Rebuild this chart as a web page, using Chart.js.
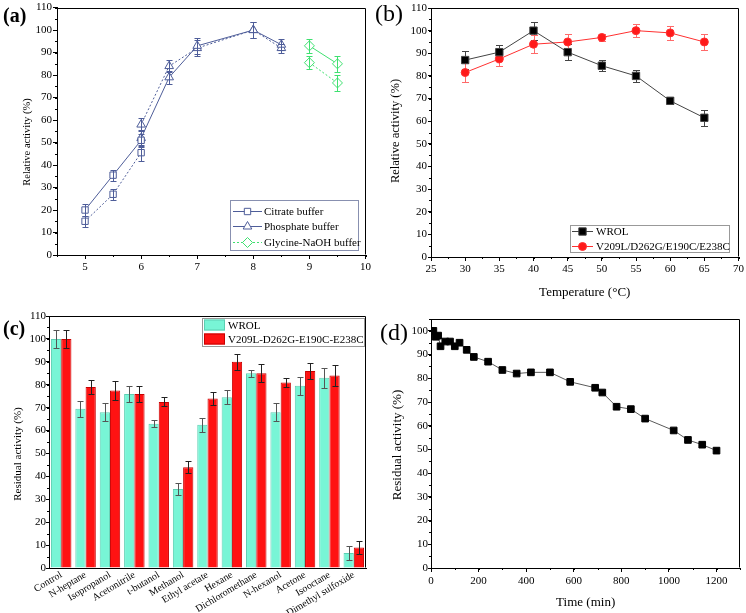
<!DOCTYPE html>
<html><head><meta charset="utf-8">
<script src="https://cdn.jsdelivr.net/npm/chart.js@4/dist/chart.umd.min.js"></script>
<style>
html,body{margin:0;padding:0;background:#fff;}
body{width:746px;height:613px;position:relative;overflow:hidden;}
canvas{position:absolute;}
.lbl{position:absolute;font-family:"Liberation Serif","Times New Roman",serif;color:#000;line-height:1;white-space:nowrap;}
</style></head><body>
<canvas id="ca" width="373" height="300" style="left:0;top:0"></canvas>
<canvas id="cb" width="373" height="300" style="left:373px;top:0"></canvas>
<canvas id="cc" width="373" height="313" style="left:0;top:300px"></canvas>
<canvas id="cd" width="373" height="313" style="left:373px;top:300px"></canvas>
<div class="lbl" style="left:3px;top:5px;font-size:20px;font-weight:bold">(a)</div>
<div class="lbl" style="left:375px;top:1px;font-size:24px">(b)</div>
<div class="lbl" style="left:3px;top:318px;font-size:20px;font-weight:bold">(c)</div>
<div class="lbl" style="left:380px;top:320px;font-size:24px">(d)</div>
<script>
// ---------- Panel (a): pH ----------
const phCitrate = [5, 5.5, 6];
const citrateSolid = [20, 35.5, 51];
const citrateSolidErr = [2.5, 2.5, 3];
const citrateDotted = [15, 27, 45.5];
const citrateDottedErr = [2.5, 2.5, 3.5];
const phPhosphate = [6, 6.5, 7, 8, 8.5];
const phosphateSolid = [52, 79, 93, 100, 93.5];
const phosphateSolidErr = [3.5, 3, 3.5, 3.5, 2.5];
const phosphateDotted = [58, 84, 92, 100, 92];
const phosphateDottedErr = [3, 2.5, 3.5, 3.5, 2];
const phGlycine = [9, 9.5];
const glycineSolid = [93, 85];
const glycineSolidErr = [3, 3.5];
const glycineDotted = [85.5, 76.5];
const glycineDottedErr = [3, 3.5];
const aXTicks = [5, 6, 7, 8, 9, 10];
const aYTicks = [0, 10, 20, 30, 40, 50, 60, 70, 80, 90, 100, 110];

// ---------- Panel (b): temperature ----------
const tempC = [30, 35, 40, 45, 50, 55, 60, 65];
const wrolTemp = [87, 90.5, 100, 90.5, 84.5, 80, 69, 61.5];
const wrolTempErr = [4, 3, 4, 3.5, 2.5, 2.5, 1.5, 3.5];
const mutTemp = [81.5, 87.5, 94, 95, 97, 100, 99, 95];
const mutTempErr = [4, 3, 4, 3.5, 1.5, 3, 3, 3.5];
const bXTicks = [25, 30, 35, 40, 45, 50, 55, 60, 65, 70];
const bYTicks = [0, 10, 20, 30, 40, 50, 60, 70, 80, 90, 100, 110];

// ---------- Panel (c): solvents ----------
const solvents = ['Control', 'N-heptane', 'Isopropanol', 'Acetonitrile', 't-butanol', 'Methanol',
  'Ethyl acetate', 'Hexane', 'Dichloromethane', 'N-hexanol', 'Acetone', 'Isooctane', 'Dimethyl sulfoxide'];
const wrolSolv = [100, 69.5, 68, 76, 63, 34.5, 62.5, 74.5, 85, 68, 79.5, 83, 6.5];
const wrolSolvErr = [4, 3.5, 4, 3.5, 1.5, 2.5, 3, 3, 1.5, 4, 4, 4.5, 3];
const mutSolv = [100, 79, 77.5, 76, 72.5, 44, 74, 90, 85, 81, 86, 84, 9];
const mutSolvErr = [4, 3, 4, 3.5, 2, 2.5, 3, 3.5, 4, 2, 3.5, 4.5, 3];
const cYTicks = [0, 10, 20, 30, 40, 50, 60, 70, 80, 90, 100, 110];

// ---------- Panel (d): time course ----------
const timeMin = [10, 20, 30, 40, 60, 80, 100, 120, 150, 180, 240, 300, 360, 420, 500, 585, 690, 720, 780, 840, 900, 1020, 1080, 1140, 1200];
const residual = [100, 97.5, 98, 93.5, 95.5, 95.5, 93.5, 95, 92, 89, 87, 83.5, 82, 82.5, 82.5, 78.5, 76, 74, 68, 67, 63, 58, 54, 52, 49.5];
const dXTicks = [0, 200, 400, 600, 800, 1000, 1200];
const dYTicks = [0, 10, 20, 30, 40, 50, 60, 70, 80, 90, 100];

// ======================================================
const FONT = "'Liberation Serif', 'Times New Roman', serif";
Chart.defaults.font.family = FONT;
Chart.defaults.color = '#000';
Chart.defaults.animation = false;
Chart.defaults.responsive = false;
Chart.defaults.plugins.legend.display = false;
Chart.defaults.plugins.tooltip.enabled = false;

const BLUE = '#4e5d99';
const GREEN = '#3fe070';

const EXTRAS = {
  ca: { minorX: 0.5, minorY: 5, minorLen: 2, capHalf: 3,
        yTitle: { text: 'Relative activity (%)', x: 27, y: 142, size: 10.5 },
        legend: { kind: 'line', x: 230, y: 200, w: 128, h: 50, border: '#8890b0', lineX0: 233, lineX1: 262, textX: 264, font: '11px ' + FONT,
                  items: [{ ds: 0, y: 211 }, { ds: 2, y: 226 }, { ds: 5, y: 242 }] } },
  cb: { minorX: 2.5, minorY: 5, minorLen: 2, capHalf: 3.5, behind: true,
        yTitle: { text: 'Relative activity (%)', x: 23, y: 131, size: 12.5 },
        legend: { kind: 'line', x: 197, y: 225, w: 159, h: 27, border: '#999', lineX0: 199, lineX1: 220, textX: 223, font: '11px ' + FONT,
                  items: [{ ds: 0, y: 231 }, { ds: 1, y: 246 }] } },
  cc: { minorY: 5, minorLen: 2, capHalf: 3,
        yTitle: { text: 'Residual activity (%)', x: 18, y: 154, size: 11 },
        legend: { kind: 'bar', x: 202, y: 18, w: 162, h: 28, border: '#999', patchX: 204, patchW: 21, patchH: 11, textX: 228, font: '11px ' + FONT,
                  items: [{ ds: 0, y: 25 }, { ds: 1, y: 39 }] } },
  cd: { minorX: 100, minorY: 5, minorLen: 2,
        yTitle: { text: 'Residual activity (%)', x: 25, y: 145, size: 13 } }
};

function drawErrors(chart, cfg) {
  const ctx = chart.ctx, ys = chart.scales.y;
  chart.data.datasets.forEach((ds, i) => {
    if (!ds.errors) return;
    const meta = chart.getDatasetMeta(i);
    ctx.save();
    ctx.strokeStyle = ds.errorColor || ds.borderColor;
    ctx.lineWidth = 1;
    ctx.setLineDash([]);
    const cap = cfg.capHalf || 3;
    meta.data.forEach((el, j) => {
      const p = meta.controller.getParsed(j);
      const e = ds.errors[j];
      const x = Math.round(el.x) + 0.5;
      const y1 = Math.round(ys.getPixelForValue(p.y + e)) + 0.5;
      const y2 = Math.round(ys.getPixelForValue(p.y - e)) + 0.5;
      ctx.beginPath();
      ctx.moveTo(x, y1); ctx.lineTo(x, y2);
      ctx.moveTo(x - cap, y1); ctx.lineTo(x + cap, y1);
      ctx.moveTo(x - cap, y2); ctx.lineTo(x + cap, y2);
      ctx.stroke();
    });
    ctx.restore();
  });
}

function marker(ctx, style, r, x, y) {
  if (Chart.helpers && Chart.helpers.drawPoint) {
    Chart.helpers.drawPoint(ctx, { pointStyle: style, radius: r, borderWidth: ctx.lineWidth, rotation: 0 }, x, y);
    return;
  }
  ctx.beginPath();
  if (style === 'circle') ctx.arc(x, y, r, 0, Math.PI * 2);
  else { const s = r * Math.SQRT1_2; ctx.rect(x - s, y - s, 2 * s, 2 * s); }
  ctx.fill(); ctx.stroke();
}

const extras = {
  id: 'extras',
  beforeDatasetsDraw(chart) {
    const cfg = EXTRAS[chart.canvas.id];
    if (cfg && cfg.behind) drawErrors(chart, cfg);
  },
  afterDatasetsDraw(chart) {
    const cfg = EXTRAS[chart.canvas.id];
    if (cfg && !cfg.behind) drawErrors(chart, cfg);
  },
  afterDraw(chart) {
    const cfg = EXTRAS[chart.canvas.id];
    if (!cfg) return;
    const ctx = chart.ctx, a = chart.chartArea;
    const L = Math.round(a.left) + 0.5, R = Math.round(a.right) - 0.5, T = Math.round(a.top) + 0.5, B = Math.round(a.bottom) - 0.5;
    ctx.save();
    ctx.strokeStyle = '#000'; ctx.lineWidth = 1; ctx.setLineDash([]);
    ctx.beginPath();
    ctx.moveTo(L, T); ctx.lineTo(R, T); ctx.lineTo(R, B);
    if (cfg.minorX) {
      const s = chart.scales.x;
      for (let v = s.min; v <= s.max + 1e-9; v += cfg.minorX) {
        const px = Math.round(s.getPixelForValue(v)) + 0.5;
        ctx.moveTo(px, a.bottom); ctx.lineTo(px, a.bottom + cfg.minorLen);
      }
    }
    if (cfg.minorY) {
      const s = chart.scales.y;
      for (let v = s.min; v <= s.max + 1e-9; v += cfg.minorY) {
        const py = Math.round(s.getPixelForValue(v)) + 0.5;
        ctx.moveTo(a.left, py); ctx.lineTo(a.left - cfg.minorLen, py);
      }
    }
    ctx.stroke();
    // y axis title
    if (cfg.yTitle) {
      const t = cfg.yTitle;
      ctx.save();
      ctx.translate(t.x, t.y);
      ctx.rotate(-Math.PI / 2);
      ctx.font = t.size + 'px ' + FONT;
      ctx.fillStyle = '#000';
      ctx.textAlign = 'center';
      ctx.textBaseline = 'middle';
      ctx.fillText(t.text, 0, 0);
      ctx.restore();
    }
    // legend
    if (cfg.legend) {
      const g = cfg.legend;
      ctx.strokeStyle = g.border;
      ctx.strokeRect(g.x + 0.5, g.y + 0.5, g.w, g.h);
      g.items.forEach(it => {
        const ds = chart.data.datasets[it.ds];
        if (g.kind === 'line') {
          ctx.save();
          ctx.strokeStyle = ds.borderColor; ctx.lineWidth = ds.borderWidth || 1;
          ctx.setLineDash(ds.borderDash || []);
          ctx.beginPath(); ctx.moveTo(g.lineX0, it.y + 0.5); ctx.lineTo(g.lineX1, it.y + 0.5); ctx.stroke();
          ctx.setLineDash([]);
          ctx.fillStyle = ds.pointBackgroundColor; ctx.strokeStyle = ds.pointBorderColor;
          ctx.lineWidth = ds.pointBorderWidth || 1;
          marker(ctx, ds.pointStyle, ds.pointRadius, (g.lineX0 + g.lineX1) / 2, it.y + 0.5);
          ctx.restore();
        } else {
          ctx.save();
          ctx.fillStyle = ds.backgroundColor; ctx.strokeStyle = ds.borderColor; ctx.lineWidth = 1;
          ctx.fillRect(g.patchX, it.y - g.patchH / 2, g.patchW, g.patchH);
          ctx.strokeRect(g.patchX + 0.5, it.y - g.patchH / 2 + 0.5, g.patchW - 1, g.patchH - 1);
          ctx.restore();
        }
        ctx.fillStyle = '#000';
        ctx.font = g.font;
        ctx.textAlign = 'left';
        ctx.textBaseline = 'middle';
        ctx.fillText(ds.label, g.textX, it.y + 1);
      });
    }
    ctx.restore();
  }
};
Chart.register(extras);

function pts(xs, ys) { return xs.map((x, i) => ({ x: x, y: ys[i] })); }

function linAxis(o) {
  return {
    type: 'linear', min: o.min, max: o.max, position: o.position,
    afterBuildTicks: s => { s.ticks = o.ticks.map(v => ({ value: v })); },
    afterFit: s => { if (o.position === 'left') s.width = o.size; else s.height = o.size; },
    grid: { drawOnChartArea: false, color: '#000', tickLength: o.tickLen, tickWidth: 1 },
    border: { color: '#000', width: 1 },
    ticks: { font: { size: o.fontSize || 11, family: FONT }, color: '#000', padding: o.tickPad, maxRotation: 0, autoSkip: false,
             callback: v => String(v) },
    title: o.title ? { display: true, text: o.title, font: { size: o.titleSize, family: FONT }, color: '#000', padding: { top: 0, bottom: o.titlePad } } : { display: false }
  };
}

function lineDs(label, xs, ys, errs, color, style, radius, dashed, fill, errColor) {
  return {
    label: label, data: pts(xs, ys), errors: errs,
    borderColor: color, borderWidth: 1, borderDash: dashed ? [2, 2] : [],
    pointStyle: style, pointRadius: radius, pointBorderWidth: 1,
    pointBackgroundColor: fill, pointBorderColor: color,
    errorColor: errColor || color, tension: 0, fill: false
  };
}

// ---------------- (a) ----------------
new Chart(document.getElementById('ca'), {
  type: 'line',
  data: { datasets: [
    lineDs('Citrate buffer', phCitrate, citrateSolid, citrateSolidErr, BLUE, 'rect', 4.5, false, '#fff'),
    lineDs('Citrate buffer', phCitrate, citrateDotted, citrateDottedErr, BLUE, 'rect', 4.5, true, '#fff'),
    lineDs('Phosphate buffer', phPhosphate, phosphateSolid, phosphateSolidErr, BLUE, 'triangle', 5, false, '#fff'),
    lineDs('Phosphate buffer', phPhosphate, phosphateDotted, phosphateDottedErr, BLUE, 'triangle', 5, true, '#fff'),
    lineDs('Glycine-NaOH buffer', phGlycine, glycineSolid, glycineSolidErr, GREEN, 'rectRot', 5, false, '#fff'),
    lineDs('Glycine-NaOH buffer', phGlycine, glycineDotted, glycineDottedErr, GREEN, 'rectRot', 5, true, '#fff')
  ] },
  options: {
    layout: { padding: { left: 0, top: 6, right: 7, bottom: 0 } },
    scales: {
      x: linAxis({ min: 4.5, max: 10, position: 'bottom', ticks: aXTicks, size: 45, tickLen: 4, tickPad: 2 }),
      y: linAxis({ min: 0, max: 110, position: 'left', ticks: aYTicks, size: 57, tickLen: 4, tickPad: 1 })
    }
  }
});

// ---------------- (b) ----------------
new Chart(document.getElementById('cb'), {
  type: 'line',
  data: { datasets: [
    lineDs('WROL', tempC, wrolTemp, wrolTempErr, '#444444', 'rect', 5.2, false, '#000', '#444'),
    lineDs('V209L/D262G/E190C/E238C', tempC, mutTemp, mutTempErr, '#ff3030', 'circle', 4, false, '#ff1a1a', '#ff6a6a')
  ] },
  options: {
    layout: { padding: { left: 0, top: 8, right: 6, bottom: 0 } },
    scales: {
      x: linAxis({ min: 25, max: 70, position: 'bottom', ticks: bXTicks, size: 43, tickLen: 4, tickPad: 2, title: 'Temperature (°C)', titleSize: 13, titlePad: 0 }),
      y: linAxis({ min: 0, max: 110, position: 'left', ticks: bYTicks, size: 58, tickLen: 3, tickPad: 1 })
    }
  }
});

// ---------------- (c) ----------------
new Chart(document.getElementById('cc'), {
  type: 'bar',
  data: {
    labels: solvents,
    datasets: [
      { label: 'WROL', data: wrolSolv, errors: wrolSolvErr, backgroundColor: '#78f5d6', borderColor: '#5ccfb3', borderWidth: 1, errorColor: '#555',
        barPercentage: 1, categoryPercentage: 0.84 },
      { label: 'V209L-D262G-E190C-E238C', data: mutSolv, errors: mutSolvErr, backgroundColor: '#ff1212', borderColor: '#c80000', borderWidth: 1, errorColor: '#222',
        barPercentage: 1, categoryPercentage: 0.84 }
    ]
  },
  options: {
    layout: { padding: { left: 0, top: 16, right: 7, bottom: 0 } },
    scales: {
      x: {
        type: 'category', position: 'bottom',
        afterFit: s => { s.height = 45; },
        grid: { drawOnChartArea: false, drawTicks: false, color: '#000' },
        border: { color: '#000', width: 1 },
        ticks: { font: { size: 10, family: FONT }, color: '#000', padding: 1, minRotation: 31, maxRotation: 31, autoSkip: false }
      },
      y: linAxis({ min: 0, max: 110, position: 'left', ticks: cYTicks, size: 49, tickLen: 3, tickPad: 0 })
    }
  }
});

// ---------------- (d) ----------------
new Chart(document.getElementById('cd'), {
  type: 'line',
  data: { datasets: [
    { label: 'Residual activity', data: pts(timeMin, residual), borderColor: '#5a5a5a', borderWidth: 1,
      pointStyle: 'rect', pointRadius: 4.7, pointBackgroundColor: '#000', pointBorderColor: '#000', pointBorderWidth: 1, tension: 0 }
  ] },
  options: {
    layout: { padding: { left: 0, top: 19, right: 5, bottom: 0 } },
    scales: {
      x: linAxis({ min: 0, max: 1300, position: 'bottom', ticks: dXTicks, size: 45, tickLen: 4, tickPad: 3, title: 'Time (min)', titleSize: 13, titlePad: 3 }),
      y: linAxis({ min: 0, max: 105, position: 'left', ticks: dYTicks, size: 58, tickLen: 3, tickPad: 0 })
    }
  }
});
</script>
</body></html>
